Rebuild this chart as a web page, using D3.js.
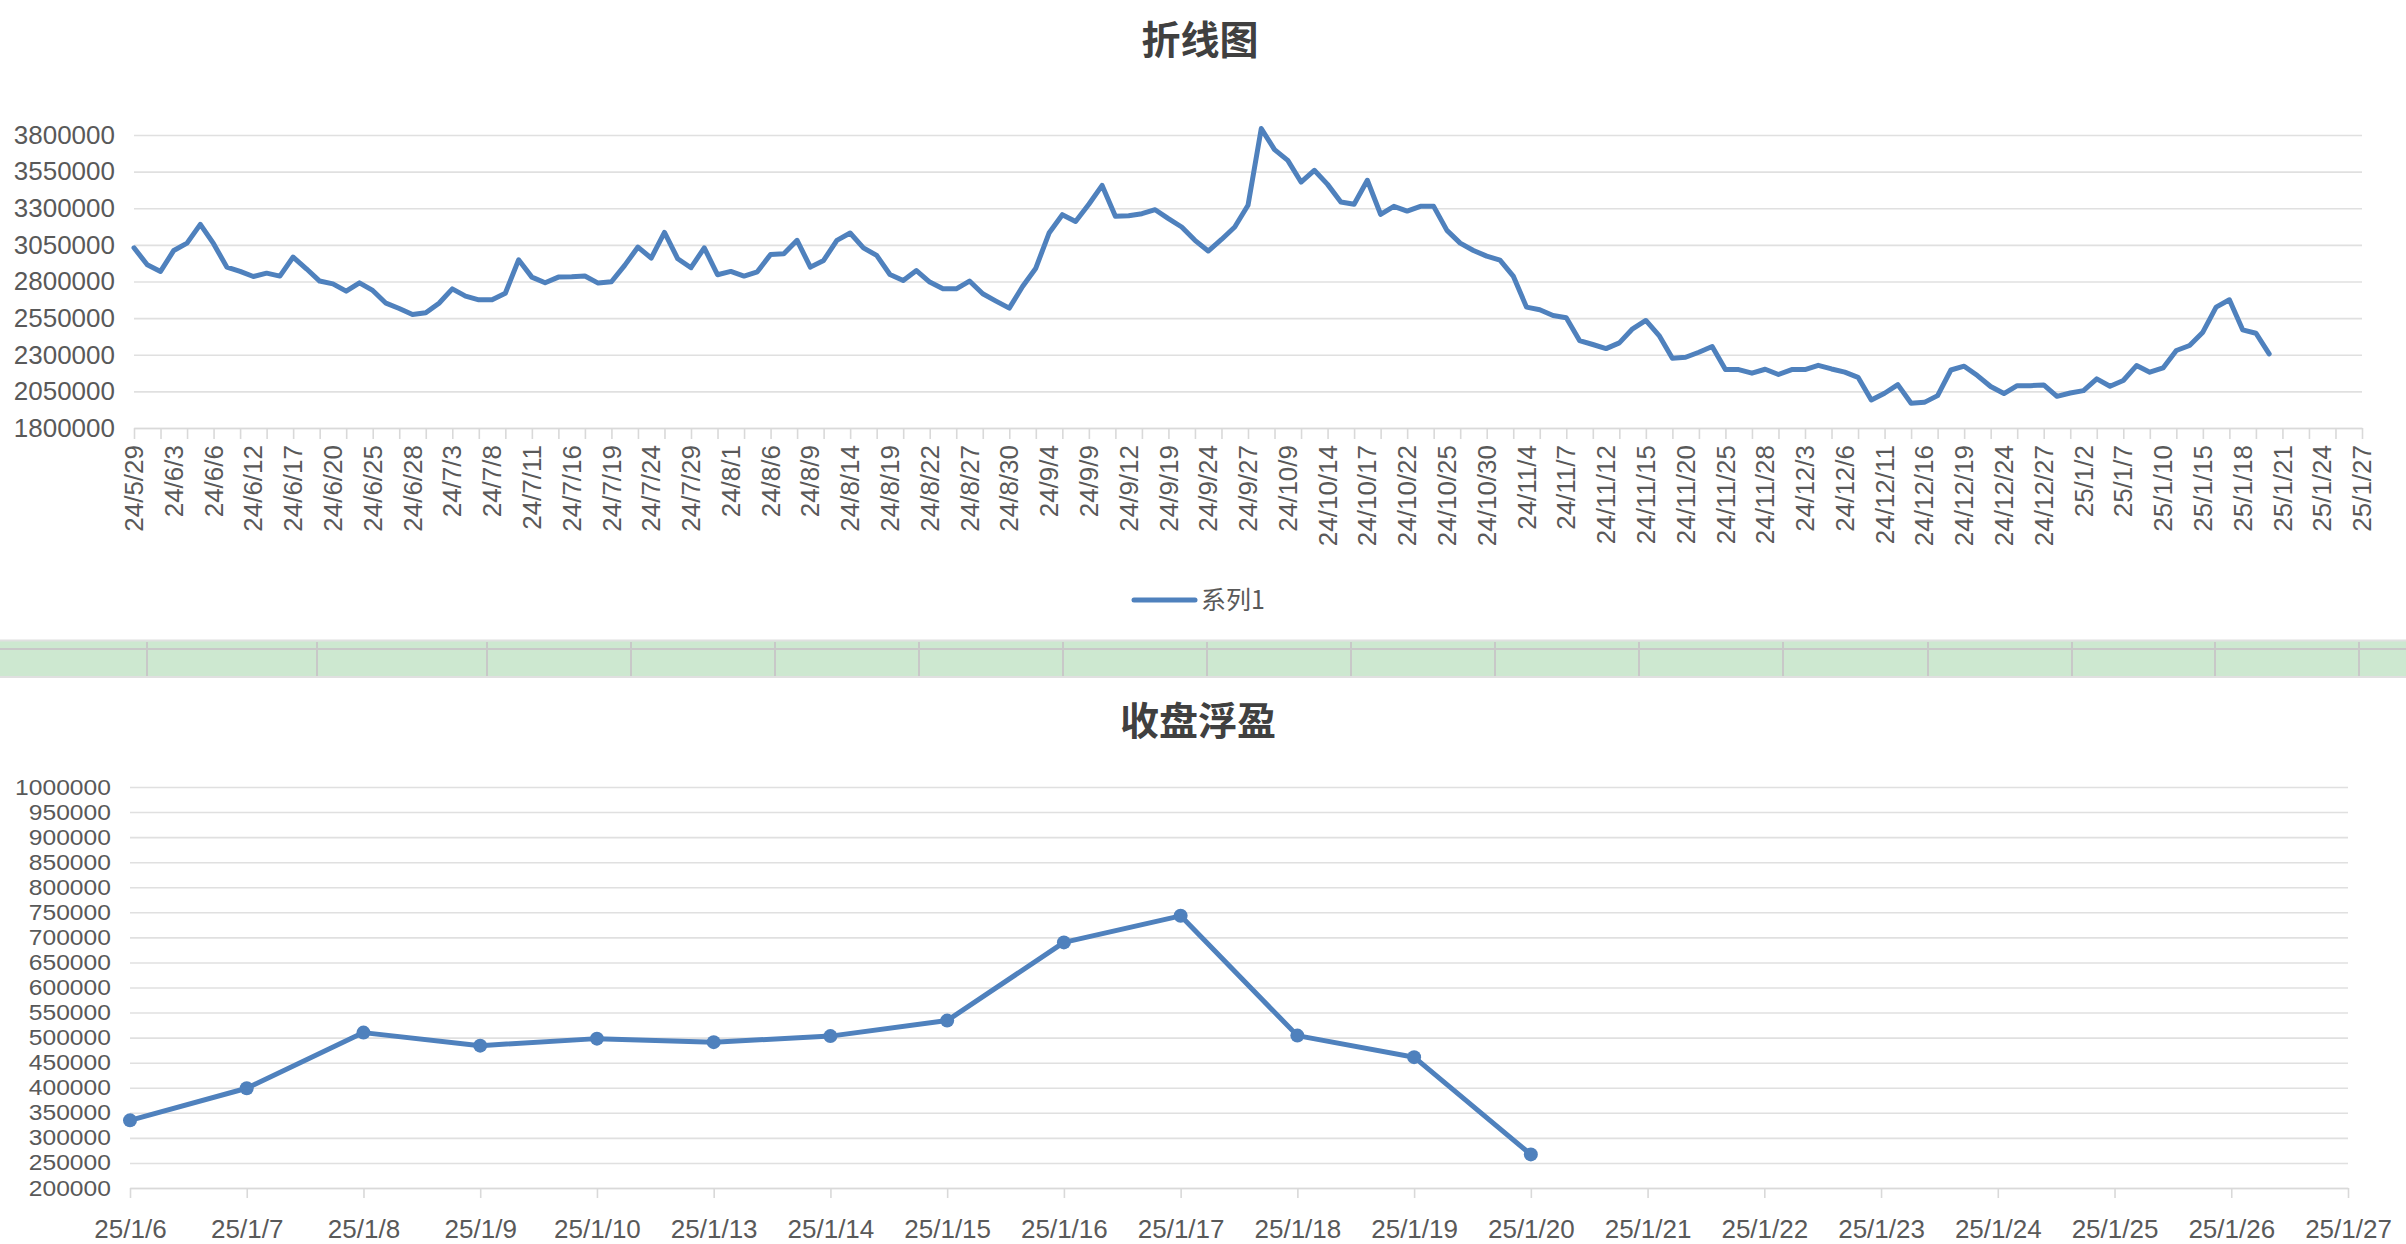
<!DOCTYPE html>
<html>
<head>
<meta charset="utf-8">
<script src="https://cdn.jsdelivr.net/npm/d3@7"></script>
<style>
  html, body { margin: 0; padding: 0; background: #ffffff; }
  svg { display: block; }
  text { font-family: "Liberation Sans", "Noto Sans CJK SC", sans-serif; }
</style>
</head>
<body>
<svg id="chart" width="2406" height="1244"></svg>
<script>
// ---------------- DATA ----------------
const topTitle = "折线图";
const seriesName = "系列1";
// every third category label of the top chart (category index = k*3)
const topLabels = ["24/5/29","24/6/3","24/6/6","24/6/12","24/6/17","24/6/20","24/6/25","24/6/28",
  "24/7/3","24/7/8","24/7/11","24/7/16","24/7/19","24/7/24","24/7/29","24/8/1","24/8/6","24/8/9",
  "24/8/14","24/8/19","24/8/22","24/8/27","24/8/30","24/9/4","24/9/9","24/9/12","24/9/19","24/9/24",
  "24/9/27","24/10/9","24/10/14","24/10/17","24/10/22","24/10/25","24/10/30","24/11/4","24/11/7",
  "24/11/12","24/11/15","24/11/20","24/11/25","24/11/28","24/12/3","24/12/6","24/12/11","24/12/16",
  "24/12/19","24/12/24","24/12/27","25/1/2","25/1/7","25/1/10","25/1/15","25/1/18","25/1/21",
  "25/1/24","25/1/27"];
const topYTicks = [1800000,2050000,2300000,2550000,2800000,3050000,3300000,3550000,3800000];
const topValues = [
  3030000,2914000,2869000,3012000,3062000,3190000,3058000,2898000,2869000,2834000,
  2857000,2837000,2967000,2887000,2803000,2784000,2734000,2791000,2739000,2652000,
  2616000,2575000,2586000,2652000,2750000,2700000,2675000,2675000,2720000,2948000,
  2830000,2791000,2830000,2832000,2837000,2789000,2798000,2910000,3035000,2960000,
  3135000,2955000,2894000,3030000,2846000,2869000,2837000,2866000,2985000,2989000,
  3081000,2898000,2944000,3081000,3131000,3030000,2978000,2848000,2807000,2875000,
  2796000,2750000,2750000,2803000,2716000,2666000,2618000,2766000,2891000,3131000,
  3256000,3210000,3327000,3456000,3245000,3249000,3263000,3290000,3229000,3172000,
  3081000,3008000,3087000,3172000,3320000,3844000,3700000,3627000,3479000,3559000,
  3463000,3343000,3327000,3491000,3258000,3313000,3281000,3313000,3313000,3149000,
  3062000,3012000,2973000,2946000,2837000,2625000,2607000,2568000,2552000,2397000,
  2370000,2342000,2381000,2477000,2534000,2431000,2276000,2283000,2317000,2356000,
  2199000,2199000,2174000,2201000,2165000,2199000,2199000,2228000,2203000,2181000,
  2146000,1991000,2037000,2096000,1969000,1975000,2021000,2196000,2222000,2158000,
  2083000,2035000,2089000,2089000,2094000,2016000,2039000,2055000,2135000,2085000,
  2124000,2226000,2181000,2210000,2329000,2363000,2454000,2625000,2675000,2470000,
  2447000,2306000];

const bottomTitle = "收盘浮盈";
const bottomCategories = ["25/1/6","25/1/7","25/1/8","25/1/9","25/1/10","25/1/13","25/1/14",
  "25/1/15","25/1/16","25/1/17","25/1/18","25/1/19","25/1/20","25/1/21","25/1/22","25/1/23",
  "25/1/24","25/1/25","25/1/26","25/1/27"];
const bottomYTicks = [200000,250000,300000,350000,400000,450000,500000,550000,600000,650000,
  700000,750000,800000,850000,900000,950000,1000000];
const bottomValues = [335000,399000,510000,484000,498000,491000,503000,534000,690000,743000,
  504000,461000,267000];

// spreadsheet row column boundaries (between the two charts)
const bandColumns = [147, 317, 487, 631, 775, 919, 1063, 1207, 1351, 1495, 1639, 1783, 1928, 2072, 2215, 2359];

// ---------------- STYLE ----------------
const BLUE = "#4f81bd";
const GRID = "#e0e0e0";
const AXIS = "#d9d9d9";
const TXT = "#595959";
const TITLE = "#404040";
const FS = 26;

const svg = d3.select("#chart");
svg.append("rect").attr("width", 2406).attr("height", 1244).attr("fill", "#fff");

// ================= TOP CHART =================
{
  const nCat = (topLabels.length - 1) * 3;
  const x = d3.scaleLinear().domain([0, nCat]).range([134, 2362]);
  const y = d3.scaleLinear().domain([topYTicks[0], topYTicks[topYTicks.length - 1]]).range([428, 135]);

  svg.append("text").attr("x", 1200).attr("y", 54).attr("text-anchor", "middle")
    .attr("font-size", 39).attr("font-weight", "bold").attr("fill", TITLE)
    .style("font-family", "'Noto Sans CJK SC', sans-serif").text(topTitle);

  // gridlines
  const gy = svg.append("g").attr("transform", "translate(134,0)")
    .call(d3.axisLeft(y).tickValues(topYTicks).tickSize(-(2362 - 134)).tickFormat(""));
  gy.select(".domain").remove();
  gy.selectAll(".tick line").attr("stroke", GRID).attr("stroke-width", 1.6);

  // y labels
  const gyl = svg.append("g").attr("transform", "translate(134,0)")
    .call(d3.axisLeft(y).tickValues(topYTicks).tickSize(0).tickPadding(19).tickFormat(d3.format("d")));
  gyl.select(".domain").remove();
  gyl.selectAll("text").attr("font-size", FS).attr("fill", TXT)
    .style("font-family", "'Liberation Sans', sans-serif");

  // x axis line + tick marks every 2 categories
  const tickVals = d3.range(0, nCat + 1, 2);
  const gx = svg.append("g").attr("transform", "translate(0,428)")
    .call(d3.axisBottom(x).tickValues(tickVals).tickSize(11).tickSizeOuter(0).tickFormat(""));
  gx.select(".domain").attr("stroke", AXIS).attr("stroke-width", 1.6);
  gx.selectAll(".tick line").attr("stroke", AXIS).attr("stroke-width", 1.6);

  // rotated x labels every 3 categories
  svg.append("g").selectAll("text").data(topLabels).join("text")
    .attr("transform", (d, i) => `translate(${x(i * 3)},445) rotate(-90)`)
    .attr("text-anchor", "end").attr("dy", "0.35em")
    .attr("font-size", FS).attr("fill", TXT)
    .style("font-family", "'Liberation Sans', sans-serif")
    .text(d => d);

  // the line
  const line = d3.line().x((d, i) => x(i)).y(d => y(d));
  svg.append("path").datum(topValues).attr("d", line)
    .attr("fill", "none").attr("stroke", BLUE).attr("stroke-width", 5)
    .attr("stroke-linejoin", "round").attr("stroke-linecap", "round");

  // legend
  svg.append("line").attr("x1", 1134).attr("x2", 1195).attr("y1", 600).attr("y2", 600)
    .attr("stroke", BLUE).attr("stroke-width", 5).attr("stroke-linecap", "round");
  svg.append("text").attr("x", 1201).attr("y", 609).attr("font-size", 25).attr("fill", TXT)
    .style("font-family", "'Noto Sans CJK SC', sans-serif").text(seriesName);
}

// ================= SPREADSHEET BAND =================
{
  const band = svg.append("g");
  band.append("rect").attr("x", 0).attr("y", 641).attr("width", 2406).attr("height", 36).attr("fill", "#cde8d0");
  band.append("line").attr("x1", 0).attr("x2", 2406).attr("y1", 640.5).attr("y2", 640.5).attr("stroke", "#e0e0e0").attr("stroke-width", 2);
  band.append("line").attr("x1", 0).attr("x2", 2406).attr("y1", 649).attr("y2", 649).attr("stroke", "#c8c8c8").attr("stroke-width", 2);
  band.append("line").attr("x1", 0).attr("x2", 2406).attr("y1", 677).attr("y2", 677).attr("stroke", "#e0e0e0").attr("stroke-width", 2);
  band.selectAll("line.col").data(bandColumns).join("line").attr("class", "col")
    .attr("x1", d => d).attr("x2", d => d).attr("y1", 642).attr("y2", 676)
    .attr("stroke", "#c8c8c8").attr("stroke-width", 2);
}

// ================= BOTTOM CHART =================
{
  const x = d3.scalePoint().domain(bottomCategories).range([130, 2348]);
  const y = d3.scaleLinear().domain([bottomYTicks[0], bottomYTicks[bottomYTicks.length - 1]]).range([1188, 787]);

  svg.append("text").attr("x", 1198).attr("y", 735).attr("text-anchor", "middle")
    .attr("font-size", 39).attr("font-weight", "bold").attr("fill", TITLE)
    .style("font-family", "'Noto Sans CJK SC', sans-serif").text(bottomTitle);

  const gy = svg.append("g").attr("transform", "translate(130,0)")
    .call(d3.axisLeft(y).tickValues(bottomYTicks).tickSize(-(2348 - 130)).tickFormat(""));
  gy.select(".domain").remove();
  gy.selectAll(".tick line").attr("stroke", GRID).attr("stroke-width", 1.6);

  const gyl = svg.append("g").attr("transform", "translate(130,0)")
    .call(d3.axisLeft(y).tickValues(bottomYTicks).tickSize(0).tickPadding(17).tickFormat(d3.format("d")));
  gyl.select(".domain").remove();
  gyl.selectAll("text").attr("font-size", 22).attr("fill", TXT)
    .attr("transform", "scale(1.12,1)")
    .style("font-family", "'Liberation Sans', sans-serif");

  const gx = svg.append("g").attr("transform", "translate(0,1188)")
    .call(d3.axisBottom(x).tickSize(10).tickSizeOuter(0).tickPadding(22));
  gx.select(".domain").attr("stroke", AXIS).attr("stroke-width", 1.6);
  gx.selectAll(".tick line").attr("stroke", AXIS).attr("stroke-width", 1.6);
  gx.selectAll("text").attr("font-size", FS).attr("fill", TXT)
    .style("font-family", "'Liberation Sans', sans-serif");

  const pts = bottomValues.map((v, i) => [bottomCategories[i], v]);
  svg.append("path").datum(pts)
    .attr("d", d3.line().x(d => x(d[0])).y(d => y(d[1])))
    .attr("fill", "none").attr("stroke", BLUE).attr("stroke-width", 5)
    .attr("stroke-linejoin", "round");
  svg.append("g").selectAll("circle").data(pts).join("circle")
    .attr("cx", d => x(d[0])).attr("cy", d => y(d[1])).attr("r", 7)
    .attr("fill", BLUE);
}
</script>
</body>
</html>
